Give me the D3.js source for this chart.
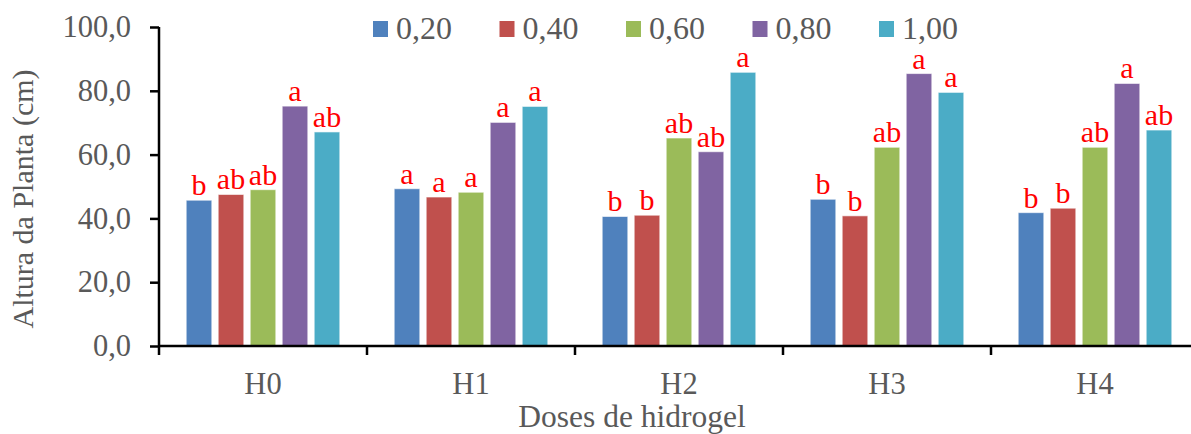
<!DOCTYPE html>
<html>
<head>
<meta charset="utf-8">
<script src="https://cdn.jsdelivr.net/npm/d3@7"></script>
<style>
  body { margin: 0; background: #fff; }
  svg { display: block; font-family: "Liberation Serif", "Times New Roman", serif; }
</style>
</head>
<body>
<svg id="chart" width="1191" height="434"></svg>
<script>
    // data
    var groups = ['H0', 'H1', 'H2', 'H3', 'H4'];
    var doses = ['0,20', '0,40', '0,60', '0,80', '1,00'];
    var colors = ['#4F81BD', '#C0504D', '#9BBB59', '#8064A2', '#4BACC6'];
    var values = [
      [45.7, 47.5, 49.0, 75.2, 67.1],
      [49.3, 46.7, 48.2, 70.1, 75.1],
      [40.6, 41.0, 65.2, 60.9, 85.8],
      [46.0, 40.8, 62.3, 85.4, 79.5],
      [41.8, 43.2, 62.3, 82.3, 67.7]
    ];
    var letters = [
      ['b', 'ab', 'ab', 'a', 'ab'],
      ['a', 'a', 'a', 'a', 'a'],
      ['b', 'b', 'ab', 'ab', 'a'],
      ['b', 'b', 'ab', 'a', 'a'],
      ['b', 'b', 'ab', 'a', 'ab']
    ];
    var yTicks = [0, 20, 40, 60, 80, 100];

    var svg = d3.select("#chart");
    var plotLeft = 159, plotRight = 1199, plotTop = 27, plotBottom = 346;
    var textColor = '#595959';

    var x0 = d3.scaleBand().domain(groups).range([plotLeft, plotRight]).padding(0);
    var x1 = d3.scaleBand().domain(doses).range([24, 184]).paddingInner(0.2).paddingOuter(0.1);
    var y = d3.scaleLinear().domain([0, 100]).range([plotBottom, plotTop]);

    // bars
    var g = svg.append("g").selectAll("g")
      .data(groups)
      .enter().append("g")
      .attr("transform", function(d) { return "translate(" + x0(d) + ",0)"; });

    function cells(d, i) {
      return values[i].map(function(v, j) { return {v: v, j: j, i: i}; });
    }

    g.selectAll("rect")
      .data(cells)
      .enter().append("rect")
      .attr("x", function(d) { return x1(doses[d.j]); })
      .attr("width", x1.bandwidth())
      .attr("y", function(d) { return y(d.v); })
      .attr("height", function(d) { return plotBottom - y(d.v); })
      .attr("fill", function(d) { return colors[d.j]; })
      .attr("stroke", "#ffffff")
      .attr("stroke-opacity", 0.6)
      .attr("stroke-width", 1);

    g.selectAll("text")
      .data(cells)
      .enter().append("text")
      .attr("x", function(d) { return x1(doses[d.j]) + x1.bandwidth() / 2; })
      .attr("y", function(d) { return y(d.v) - 5; })
      .attr("text-anchor", "middle")
      .attr("fill", "#FF0000")
      .style("font-size", "30px")
      .text(function(d) { return letters[d.i][d.j]; });

    // y axis
    var yAxis = svg.append("g")
      .attr("transform", "translate(" + plotLeft + ",0)")
      .call(d3.axisLeft(y).tickValues(yTicks).tickSize(9).tickPadding(19)
        .tickFormat(function(d) { return d3.format(".1f")(d).replace('.', ','); }));
    yAxis.attr("font-family", null).attr("font-size", null);
    yAxis.select(".domain").attr("stroke", "#000").attr("stroke-width", 2.5)
      .attr("d", "M0," + plotTop + "V" + plotBottom);
    yAxis.selectAll(".tick line").attr("stroke", "#000").attr("stroke-width", 2.5);
    yAxis.selectAll("text").attr("fill", textColor).style("font-size", "30.5px");

    // x axis
    var xAxis = svg.append("g")
      .attr("transform", "translate(0," + plotBottom + ")")
      .call(d3.axisBottom(x0).tickSize(0).tickPadding(26));
    xAxis.attr("font-family", null).attr("font-size", null);
    xAxis.select(".domain").attr("stroke", "#000").attr("stroke-width", 2.5)
      .attr("d", "M" + plotLeft + ",0H" + plotRight);
    xAxis.selectAll("text").attr("fill", textColor).style("font-size", "30.5px");
    var bounds = groups.map(function(d) { return x0(d); }).concat([plotRight]);
    xAxis.selectAll(".bound")
      .data(bounds)
      .enter().append("line")
      .attr("x1", function(d) { return d; })
      .attr("x2", function(d) { return d; })
      .attr("y1", 0)
      .attr("y2", 9)
      .attr("stroke", "#000")
      .attr("stroke-width", 2.5);

    // axis titles
    svg.append("text")
      .attr("transform", "translate(33,199) rotate(-90)")
      .attr("text-anchor", "middle")
      .attr("fill", textColor)
      .style("font-size", "30px")
      .text("Altura da Planta (cm)");

    svg.append("text")
      .attr("x", 632)
      .attr("y", 427)
      .attr("text-anchor", "middle")
      .attr("fill", textColor)
      .style("font-size", "31.5px")
      .text("Doses de hidrogel");

    // legend
    var legend = svg.append("g").selectAll("g")
      .data(doses)
      .enter().append("g")
      .attr("transform", function(d, i) { return "translate(" + (373 + i * 126.5) + ",0)"; });
    legend.append("rect")
      .attr("x", 0).attr("y", 21)
      .attr("width", 15).attr("height", 16)
      .attr("fill", function(d, i) { return colors[i]; });
    legend.append("text")
      .attr("x", 23).attr("y", 39)
      .attr("fill", textColor)
      .style("font-size", "32px")
      .text(function(d) { return d; });
</script>
</body>
</html>
